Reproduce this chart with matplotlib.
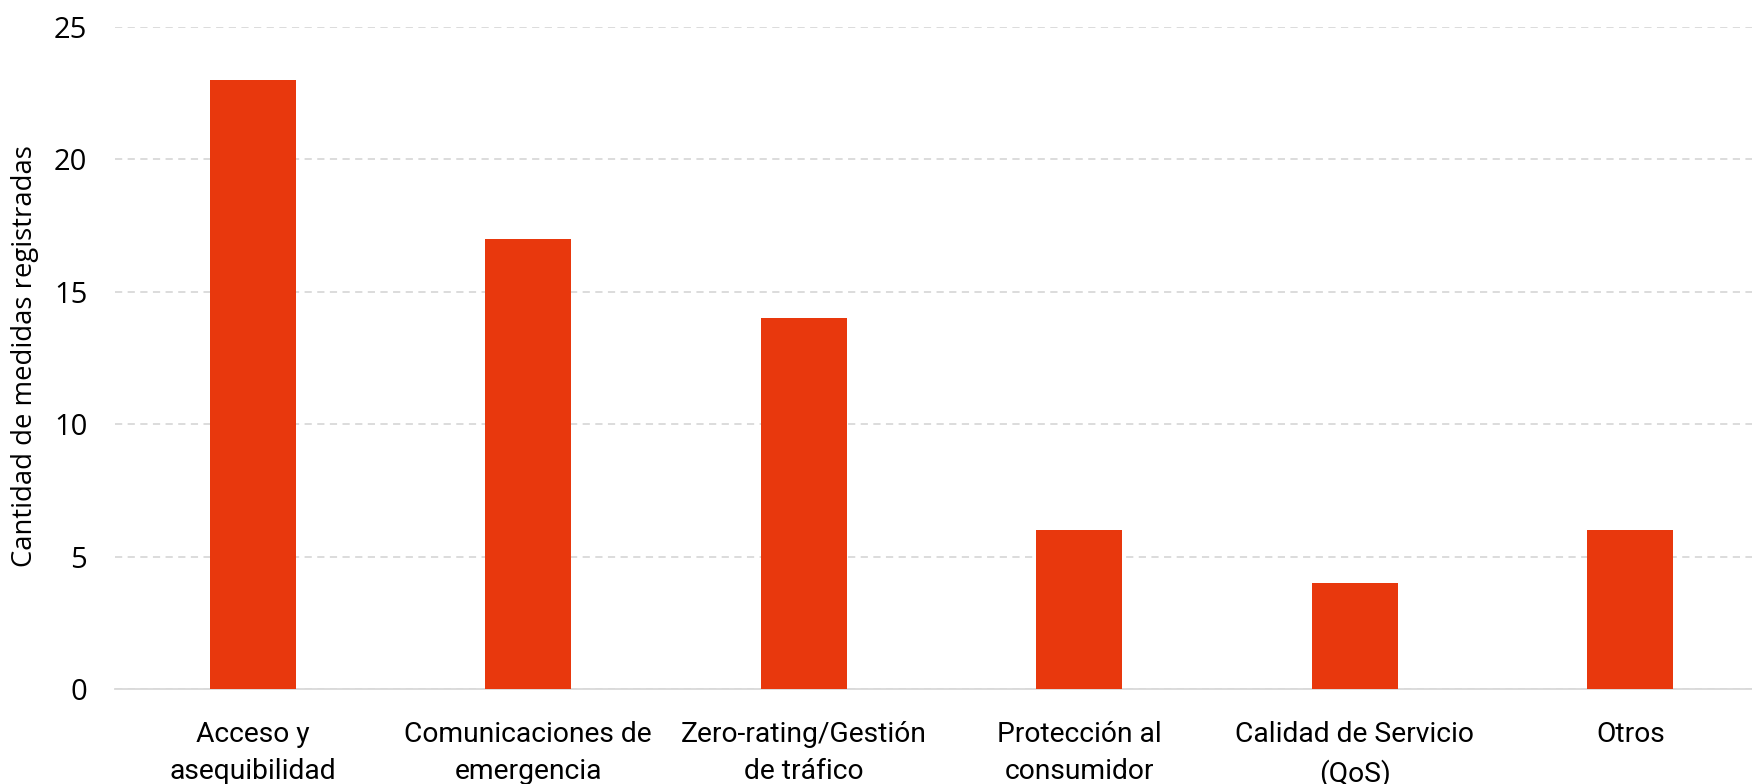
import matplotlib.pyplot as plt

categorias = [
    "Acceso y\nasequibilidad",
    "Comunicaciones de\nemergencia",
    "Zero-rating/Gestión\nde tráfico",
    "Protección al\nconsumidor",
    "Calidad de Servicio\n(QoS)",
    "Otros",
]
medidas = [23, 17, 14, 6, 4, 6]
yticks = [0, 5, 10, 15, 20, 25]

fig = plt.figure(figsize=(17.52, 7.84), dpi=100)
ax = fig.add_axes([115 / 1752, 95 / 784, 1653 / 1752, 662 / 784])

x = range(len(categorias))
ax.bar(x, medidas, width=0.312, color="#E8380D", zorder=3)

ax.set_xlim(-0.5, len(categorias) - 0.5)
ax.set_ylim(0, 25)
ax.set_yticks(yticks)
ax.set_yticklabels([str(t) for t in yticks], fontfamily="Open Sans", fontsize=21)
ax.set_xticks(list(x))
ax.set_xticklabels(categorias, fontfamily="Roboto", fontsize=20.3,
                   linespacing=1.5, va="top")
ax.tick_params(axis="both", length=0)
ax.tick_params(axis="x", pad=23)
ax.tick_params(axis="y", pad=20)

ax.grid(axis="y", color="#D9D9D9", linestyle=(0, (4, 3)), linewidth=1.3, zorder=0)
for s in ["top", "right", "left"]:
    ax.spines[s].set_visible(False)
ax.spines["bottom"].set_color("#D9D9D9")
ax.spines["bottom"].set_linewidth(1.3)

fig.text(25 / 1752, 1 - 356 / 784, "Cantidad de medidas registradas",
         rotation=90, ha="center", va="center", fontfamily="Open Sans", fontsize=19.8)

fig.savefig("out.png", dpi=100)
